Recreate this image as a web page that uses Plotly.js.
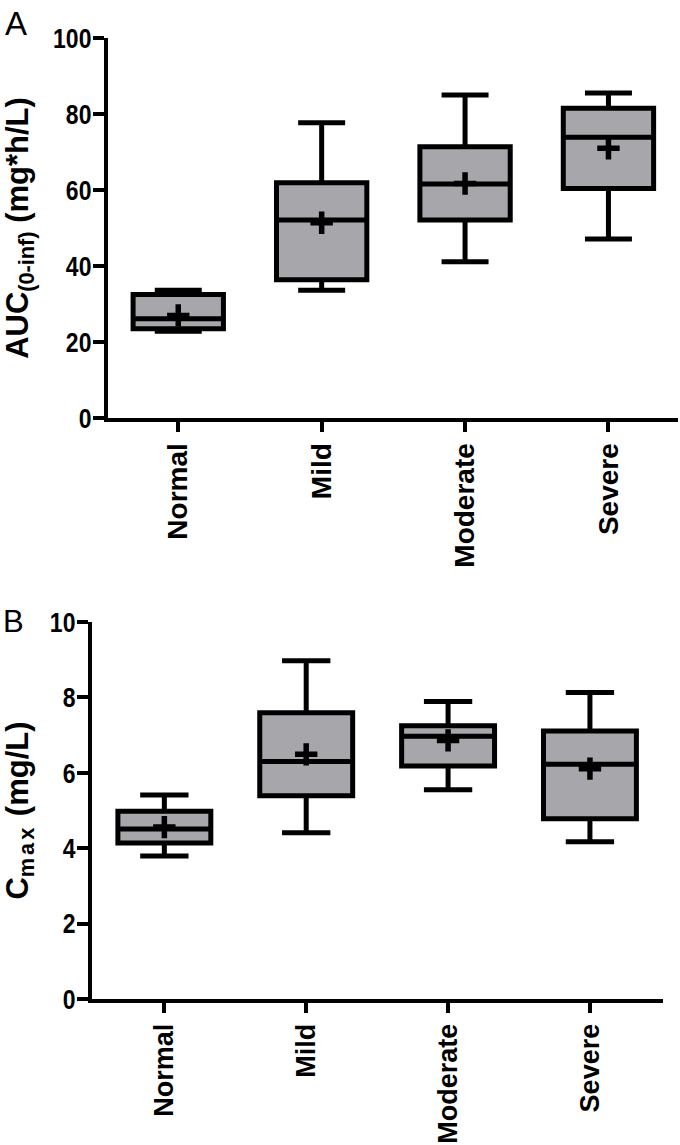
<!DOCTYPE html>
<html>
<head>
<meta charset="utf-8">
<script src="https://cdn.plot.ly/plotly-3.0.1.min.js"></script>
<style>
html, body { margin: 0; padding: 0; background: #ffffff; }
#chart { width: 680px; height: 1145px; }
</style>
</head>
<body>
<div id="chart"></div>
<script>
// ---- data ----
const categories = ['Normal', 'Mild', 'Moderate', 'Severe'];

// Panel A: AUC(0-inf) (mg*h/L)
const aucMin    = [22.8, 33.6, 41.1, 47.1];
const aucQ1     = [23.5, 36.4, 52.1, 60.4];
const aucMedian = [26.1, 52.1, 61.6, 73.9];
const aucQ3     = [32.5, 61.9, 71.4, 81.5];
const aucMax    = [33.6, 77.7, 85.0, 85.5];
const aucMean   = [27.0, 51.4, 61.7, 71.0];
const aucTicks  = [0, 20, 40, 60, 80, 100];

// Panel B: Cmax (mg/L)
const cmaxMin    = [3.79, 4.41, 5.55, 4.17];
const cmaxQ1     = [4.14, 5.39, 6.18, 4.78];
const cmaxMedian = [4.51, 6.30, 6.97, 6.23];
const cmaxQ3     = [4.98, 7.59, 7.25, 7.11];
const cmaxMax    = [5.41, 8.97, 7.89, 8.13];
const cmaxMean   = [4.56, 6.49, 6.86, 6.11];
const cmaxTicks  = [0, 2, 4, 6, 8, 10];

// ---- styles ----
const W = 680, H = 1145;
const boxFill = '#a6a6ab';
const ink = '#000000';
const fam = '"Liberation Sans", Arial, sans-serif';
const tickFont = { family: fam, size: 28, color: ink, weight: 700 };
const catFontA = { family: fam, size: 28, color: ink, weight: 700 };
const catFontB = { family: fam, size: 27, color: ink, weight: 700 };
const titleFont = { family: fam, size: 31, color: ink, weight: 700 };

function boxTrace(xa, ya, q1, med, q3, lo, hi, width) {
  return {
    type: 'box', xaxis: xa, yaxis: ya,
    x: categories, q1: q1, median: med, q3: q3, lowerfence: lo, upperfence: hi,
    width: width, whiskerwidth: 0.52,
    fillcolor: boxFill, line: { color: ink, width: 5 },
    boxpoints: false, showlegend: false, hoverinfo: 'skip'
  };
}
function meanTrace(xa, ya, mean) {
  return {
    type: 'scatter', mode: 'markers', xaxis: xa, yaxis: ya,
    x: categories, y: mean, cliponaxis: false,
    marker: { symbol: 'cross-thin', size: 16, color: ink, line: { color: ink, width: 5.5 } },
    showlegend: false, hoverinfo: 'skip'
  };
}

const data = [
  boxTrace('x', 'y', aucQ1, aucMedian, aucQ3, aucMin, aucMax, 0.63),
  meanTrace('x', 'y', aucMean),
  boxTrace('x2', 'y2', cmaxQ1, cmaxMedian, cmaxQ3, cmaxMin, cmaxMax, 0.655),
  meanTrace('x2', 'y2', cmaxMean)
];

function xAxis(domain, anchor, range, font) {
  return {
    domain: domain, anchor: anchor, type: 'category',
    categoryorder: 'array', categoryarray: categories,
    range: range, showgrid: false, zeroline: false,
    showline: true, linecolor: ink, linewidth: 4,
    ticks: 'outside', ticklen: 10, tickwidth: 4, tickcolor: ink,
    tickangle: -90, tickfont: font, fixedrange: true
  };
}
function yAxis(domain, anchor, range, tickvals, title, standoff) {
  return {
    domain: domain, anchor: anchor, range: range,
    tickmode: 'array', tickvals: tickvals, ticktext: tickvals.map(String),
    showgrid: false, zeroline: false,
    showline: true, linecolor: ink, linewidth: 4,
    ticks: 'outside', ticklen: 11, tickwidth: 4, tickcolor: ink,
    tickfont: tickFont, fixedrange: true,
    title: { text: title, font: titleFont, standoff: standoff }
  };
}

const layout = {
  width: W, height: H,
  margin: { l: 0, r: 0, t: 0, b: 0 },
  paper_bgcolor: '#ffffff', plot_bgcolor: '#ffffff',
  showlegend: false,
  xaxis:  xAxis([108 / W, 678 / W], 'y', [-0.49, 3.485], catFontA),
  yaxis:  yAxis([1 - 418 / H, 1 - 38 / H], 'x', [0, 100], aucTicks, 'AUC<sub>(0-inf)</sub> (mg*h/L)', 20),
  xaxis2: xAxis([92 / W, 663 / W], 'y2', [-0.51, 3.515], catFontB),
  yaxis2: yAxis([1 - 999 / H, 1 - 622 / H], 'x2', [0, 10], cmaxTicks,
                'C<sub><span style="letter-spacing:3px">max</span></sub> (mg/L)', 36),
  annotations: [
    { text: 'A', xref: 'paper', yref: 'paper', x: 3 / W, y: 1 - 3 / H, xanchor: 'left', yanchor: 'top',
      showarrow: false, font: { family: fam, size: 33, color: ink } },
    { text: 'B', xref: 'paper', yref: 'paper', x: 1 / W, y: 1 - 602 / H, xanchor: 'left', yanchor: 'top',
      showarrow: false, font: { family: fam, size: 31, color: ink } }
  ]
};

Plotly.newPlot('chart', data, layout, { displayModeBar: false, staticPlot: true }).then(function (gd) {
  // narrow the bold numerals of the value axes (condensed face in the reference)
  // and bring them a little closer to their tick marks
  gd.querySelectorAll('.ytick text, .y2tick text').forEach(function (t) {
    const bb = t.getBBox();
    const r = bb.x + bb.width;
    const cur = t.getAttribute('transform') || '';
    t.setAttribute('transform', cur + ' translate(' + (r + 4) + ',0) scale(0.82,1) translate(' + (-r) + ',0)');
  });
});
</script>
</body>
</html>
